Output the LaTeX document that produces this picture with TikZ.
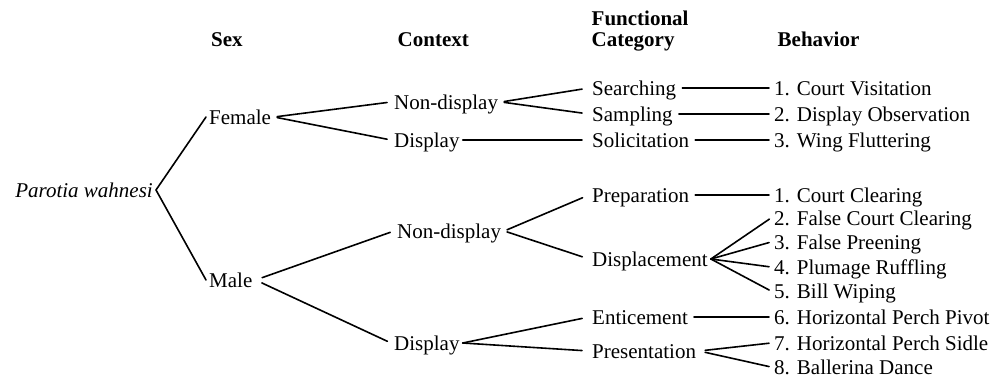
\documentclass[tikz,border=0pt]{standalone}
\usepackage{fontspec}
\setmainfont{Liberation Serif}
\begin{document}
\begin{tikzpicture}[x=1pt,y=-1pt,font=\fontsize{21}{25}\selectfont,
  lbl/.style={anchor=west,inner xsep=3pt,inner ysep=0pt,text height=15pt,text depth=0pt},
  hdr/.style={anchor=base west,inner sep=0pt,font=\fontsize{21}{21}\selectfont\bfseries},
  conn/.style={line width=1.6pt,line cap=round},
  fromtxt/.style={shorten <=3pt},
  toctx/.style={shorten >=4pt},
  tocat/.style={shorten >=7pt},
  tobeh/.style={shorten >=2pt}]
\useasboundingbox (0,0) rectangle (1003,379);
% headers
\node[hdr] (hsex) at (211,47) {Sex};
\node[hdr] (hctx) at (397.5,47) {Context};
\node[hdr] (hfun) at (591.5,26) {Functional};
\node[hdr] (hcat) at (591.5,47) {Category};
\node[hdr] (hbeh) at (777.5,47) {Behavior};
% root
\node[lbl,anchor=east] (pw) at (156,190) {\itshape Parotia wahnesi};
% sex
\node[lbl] (fem) at (206,117) {Female};
\node[lbl] (male) at (206,280) {Male};
% context
\node[lbl] (fnd) at (391,102) {Non-display};
\node[lbl] (fdi) at (391,140) {Display};
\node[lbl] (mnd) at (394,231) {Non-display};
\node[lbl] (mdi) at (391,343) {Display};
% functional category
\node[lbl] (sea) at (589,88) {Searching};
\node[lbl] (sam) at (589,114) {Sampling};
\node[lbl] (sol) at (589,140) {Solicitation};
\node[lbl] (pre) at (589,195) {Preparation};
\node[lbl] (dis) at (589,259) {Displacement};
\node[lbl] (ent) at (589,317) {Enticement};
\node[lbl] (prs) at (589,351) {Presentation};
% behaviors
\node[lbl] (b1) at (771,88) {1. Court Visitation};
\node[lbl] (b2) at (771,114) {2. Display Observation};
\node[lbl] (b3) at (771,140) {3. Wing Fluttering};
\node[lbl] (c1) at (771,195) {1. Court Clearing};
\node[lbl] (c2) at (771,218) {2. False Court Clearing};
\node[lbl] (c3) at (771,242) {3. False Preening};
\node[lbl] (c4) at (771,267) {4. Plumage Ruffling};
\node[lbl] (c5) at (771,291) {5. Bill Wiping};
\node[lbl] (c6) at (771,317) {6. Horizontal Perch Pivot};
\node[lbl] (c7) at (771,343) {7. Horizontal Perch Sidle};
\node[lbl] (c8) at (771,367) {8. Ballerina Dance};
% connectors
\draw[conn] (pw.east) -- (fem.west);
\draw[conn] (pw.east) -- (male.west);
\draw[conn,fromtxt,toctx] (fem.east) -- (fnd.west);
\draw[conn,fromtxt,toctx] (fem.east) -- (fdi.west);
\draw[conn,shorten <=7pt,toctx] (male.east) -- (mnd.west);
\draw[conn,shorten <=7pt,toctx] (male.east) -- (mdi.west);
\draw[conn,fromtxt,tocat] (fnd.east) -- (sea.west);
\draw[conn,fromtxt,tocat] (fnd.east) -- (sam.west);
\draw[conn,tocat] (fdi.east) -- (sol.west);
\draw[conn,fromtxt,tocat] (mnd.east) -- (pre.west);
\draw[conn,fromtxt,tocat] (mnd.east) -- (dis.west);
\draw[conn,tocat] (mdi.east) -- (ent.west);
\draw[conn,tocat] (mdi.east) -- (prs.west);
\draw[conn,fromtxt,tobeh] (sea.east) -- (b1.west);
\draw[conn,fromtxt,tobeh] (sam.east) -- (b2.west);
\draw[conn,fromtxt,tobeh] (sol.east) -- (b3.west);
\draw[conn,fromtxt,tobeh] (pre.east) -- (c1.west);
\draw[conn,tobeh] (dis.east) -- (c2.west);
\draw[conn,tobeh] (dis.east) -- (c3.west);
\draw[conn,tobeh] (dis.east) -- (c4.west);
\draw[conn,tobeh] (dis.east) -- (c5.west);
\draw[conn,fromtxt,tobeh] (ent.east) -- (c6.west);
\draw[conn,shorten <=6pt,tobeh] (prs.east) -- (c7.west);
\draw[conn,shorten <=6pt,tobeh] (prs.east) -- (c8.west);
\end{tikzpicture}
\end{document}
